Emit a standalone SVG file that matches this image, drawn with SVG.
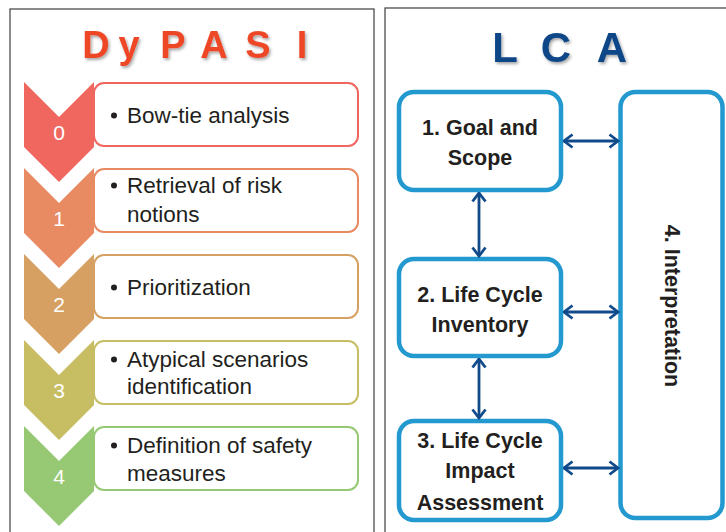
<svg xmlns="http://www.w3.org/2000/svg" width="726" height="532" viewBox="0 0 726 532">
  <style>
    .panel { fill: #ffffff; stroke: #4d4d4d; stroke-width: 1.3; }
    .title { font-family: "Liberation Sans", Arial, sans-serif; font-weight: bold; text-anchor: middle; }
    .step { font-family: "Liberation Sans", Arial, sans-serif; font-size: 22.5px; fill: #231f20; }
    .num { font-family: "Liberation Sans", Arial, sans-serif; font-size: 21px; fill: #ffffff; text-anchor: middle; }
    .card { fill: #ffffff; stroke-width: 2; }
    .lca-box { fill: #ffffff; stroke: #2399cf; stroke-width: 4.5; }
    .lca-text { font-family: "Liberation Sans", Arial, sans-serif; font-weight: bold; font-size: 21.5px; fill: #231f20; text-anchor: middle; }
    .link { fill: none; stroke: #114a8a; stroke-width: 2.8; marker-start: url(#head); marker-end: url(#head); }
  </style>
  <defs>
    <filter id="shadow" x="-20%" y="-20%" width="140%" height="150%">
      <feDropShadow dx="1.5" dy="2" stdDeviation="1.4" flood-color="#000000" flood-opacity="0.35"/>
    </filter>
    <marker id="head" viewBox="0 0 12 16" refX="10.5" refY="8" markerWidth="12" markerHeight="16" markerUnits="userSpaceOnUse" orient="auto-start-reverse">
      <path d="M2,1.5 L10.5,8 L2,14.5" fill="none" stroke="#114a8a" stroke-width="2.8" stroke-linejoin="miter"/>
    </marker>
  </defs>

  <!-- DyPASI panel -->
  <rect class="panel" x="10" y="9" width="364" height="540"/>
  <text class="title" font-size="38" fill="#ee4628" filter="url(#shadow)" y="58"><tspan x="96">D</tspan><tspan x="129">y</tspan><tspan x="173">P</tspan><tspan x="214">A</tspan><tspan x="258">S</tspan><tspan x="302">I</tspan></text>

  <g id="step0">
    <rect class="card" stroke="#f0675f" x="94" y="83" width="264" height="63" rx="10"/>
    <polygon fill="#f0675f" points="24,82 59,117 94,82 94,147 59,182 24,147"/>
    <text class="num" x="59" y="140">0</text>
    <circle cx="114" cy="115.5" r="3" fill="#231f20"/>
    <text class="step" x="127" y="123">Bow-tie analysis</text>
  </g>

  <g id="step1">
    <rect class="card" stroke="#e88a62" x="94" y="169" width="264" height="63" rx="10"/>
    <polygon fill="#e88a62" points="24,168 59,203 94,168 94,233 59,268 24,233"/>
    <text class="num" x="59" y="226">1</text>
    <circle cx="114" cy="185.5" r="3" fill="#231f20"/>
    <text class="step" x="127" y="193">Retrieval of risk</text>
    <text class="step" x="127" y="222">notions</text>
  </g>

  <g id="step2">
    <rect class="card" stroke="#d6a062" x="94" y="255" width="264" height="63" rx="10"/>
    <polygon fill="#d6a062" points="24,254 59,289 94,254 94,319 59,354 24,319"/>
    <text class="num" x="59" y="312">2</text>
    <circle cx="114" cy="287.5" r="3" fill="#231f20"/>
    <text class="step" x="127" y="295">Prioritization</text>
  </g>

  <g id="step3">
    <rect class="card" stroke="#c7be64" x="94" y="341" width="264" height="63" rx="10"/>
    <polygon fill="#c7be64" points="24,340 59,375 94,340 94,405 59,440 24,405"/>
    <text class="num" x="59" y="398">3</text>
    <circle cx="114" cy="359.5" r="3" fill="#231f20"/>
    <text class="step" x="127" y="367">Atypical scenarios</text>
    <text class="step" x="127" y="394">identification</text>
  </g>

  <g id="step4">
    <rect class="card" stroke="#97c873" x="94" y="427" width="264" height="63" rx="10"/>
    <polygon fill="#97c873" points="24,426 59,461 94,426 94,491 59,526 24,491"/>
    <text class="num" x="59" y="484">4</text>
    <circle cx="114" cy="445.5" r="3" fill="#231f20"/>
    <text class="step" x="127" y="453">Definition of safety</text>
    <text class="step" x="127" y="481">measures</text>
  </g>

  <!-- LCA panel -->
  <rect class="panel" x="385" y="8" width="360" height="540"/>
  <text class="title" font-size="42" fill="#0e4687" filter="url(#shadow)" y="62"><tspan x="505">L</tspan><tspan x="556">C</tspan><tspan x="612">A</tspan></text>

  <g id="goal">
    <rect class="lca-box" x="399" y="92" width="162" height="98" rx="15"/>
    <text class="lca-text" x="480" y="135">1. Goal and</text>
    <text class="lca-text" x="480" y="165">Scope</text>
  </g>
  <g id="inventory">
    <rect class="lca-box" x="399" y="259" width="162" height="97" rx="15"/>
    <text class="lca-text" x="480" y="302">2. Life Cycle</text>
    <text class="lca-text" x="480" y="332">Inventory</text>
  </g>
  <g id="impact">
    <rect class="lca-box" x="399" y="421" width="162" height="99" rx="15"/>
    <text class="lca-text" x="480" y="448">3. Life Cycle</text>
    <text class="lca-text" x="480" y="478">Impact</text>
    <text class="lca-text" x="480" y="510">Assessment</text>
  </g>
  <g id="interpretation">
    <rect class="lca-box" x="620.5" y="92" width="102" height="426" rx="15"/>
    <text class="lca-text" font-size="22.5" transform="translate(665,306) rotate(90)" x="0" y="0">4. Interpretation</text>
  </g>

  <g id="connectors">
    <line class="link" x1="564" y1="141" x2="618" y2="141"/>
    <line class="link" x1="564" y1="312" x2="618" y2="312"/>
    <line class="link" x1="564" y1="468" x2="618" y2="468"/>
    <line class="link" x1="479" y1="193" x2="479" y2="256"/>
    <line class="link" x1="479" y1="359" x2="479" y2="418"/>
  </g>
</svg>
